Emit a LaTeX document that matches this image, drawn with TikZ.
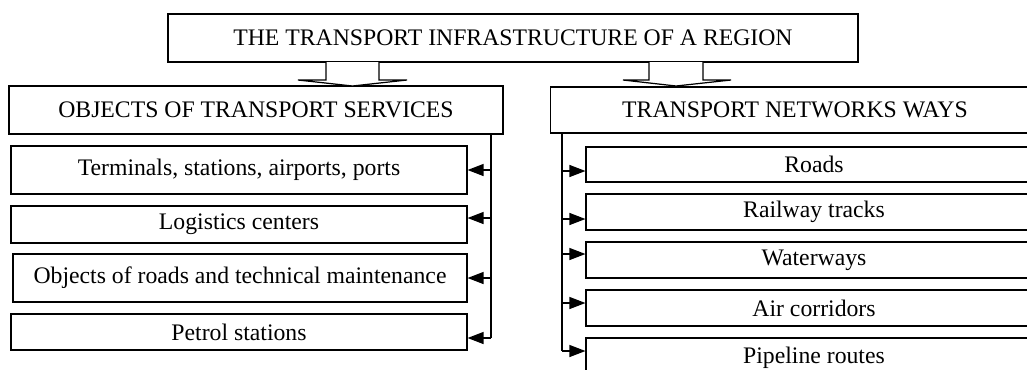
\documentclass[tikz,border=0pt]{standalone}
\usepackage{fontspec}
\setmainfont{Liberation Serif}
\usetikzlibrary{arrows.meta}

\begin{document}
\begin{tikzpicture}[x=0.02cm,y=-0.02cm,line width=0.7pt,
  box/.style={shape=rectangle,draw=black,fill=white,inner sep=0pt,font=\fontsize{13.5}{15}\selectfont},
  fat/.style={draw=black,fill=white,line join=miter},
  arr/.style={-{Triangle[length=0.32cm,width=0.24cm]}}]
\clip (0,0) rectangle (1027,369);

%draw top box
\node [box, minimum width = 13.8cm, minimum height=0.96cm] at (513,38) (top) {THE TRANSPORT INFRASTRUCTURE OF A REGION};

%draw the two groups
\node [box, minimum width = 9.88cm, minimum height=0.96cm] at (256,110) (objs) {OBJECTS OF TRANSPORT SERVICES};
\node [box, minimum width = 9.78cm, minimum height=0.92cm] at (795,110) (nets) {TRANSPORT NETWORKS WAYS};

%wide arrows from top box to groups
\coordinate (la) at (352.5,62);
\coordinate (ra) at (676,62);
\draw [fat] (la) +(-26.5,0) -- +(-26.5,18) -- +(-54.5,18) -- +(0,24) -- +(54.5,18) -- +(26.5,18) -- +(26.5,0);
\draw [fat] (ra) +(-27,0) -- +(-27,18) -- +(-53,18) -- +(0,24) -- +(55,18) -- +(27,18) -- +(27,0);

%objects of services
\node [box, minimum width = 9.12cm, minimum height=0.96cm] at (239,170) (c1) {Terminals, stations, airports, ports};
\node [box, minimum width = 9.12cm, minimum height=0.74cm] at (239,224.5) (c2) {Logistics centers};
\node [box, minimum width = 9.08cm, minimum height=0.96cm] at (240,278) (c3) {Objects of roads and technical maintenance};
\node [box, minimum width = 9.12cm, minimum height=0.72cm] at (239,332) (c4) {Petrol stations};

%networks ways
\node [box, minimum width = 9.12cm, minimum height=0.70cm] at (814,164.5) (r1) {Roads};
\node [box, minimum width = 9.12cm, minimum height=0.72cm] at (814,212) (r2) {Railway tracks};
\node [box, minimum width = 9.12cm, minimum height=0.72cm] at (814,260) (r3) {Waterways};
\node [box, minimum width = 9.12cm, minimum height=0.72cm] at (814,308) (r4) {Air corridors};
\node [box, minimum width = 9.12cm, minimum height=0.80cm] at (814,358) (r5) {Pipeline routes};

%left trunk and arrows
\coordinate (ltop) at (491,134);
\coordinate (a1) at (c1.east);
\coordinate (a2) at ([yshift=0.13cm]c2.east);
\coordinate (a3) at (c3.east);
\coordinate (a4) at ([yshift=-0.12cm]c4.east);
\draw (ltop) -- (ltop |- a4);
\foreach \a in {a1,a2,a3,a4}
  \draw [arr] (ltop |- \a) -- (\a);

%right trunk and arrows
\coordinate (rtop) at (562,133);
\coordinate (b1) at ([yshift=-0.13cm]r1.west);
\coordinate (b2) at ([yshift=-0.14cm]r2.west);
\coordinate (b3) at ([yshift=0.12cm]r3.west);
\coordinate (b4) at ([yshift=0.10cm]r4.west);
\coordinate (b5) at ([yshift=0.14cm]r5.west);
\draw (rtop) -- (rtop |- b5);
\foreach \b in {b1,b2,b3,b4,b5}
  \draw [arr] (rtop |- \b) -- (\b);
\end{tikzpicture}
\end{document}
